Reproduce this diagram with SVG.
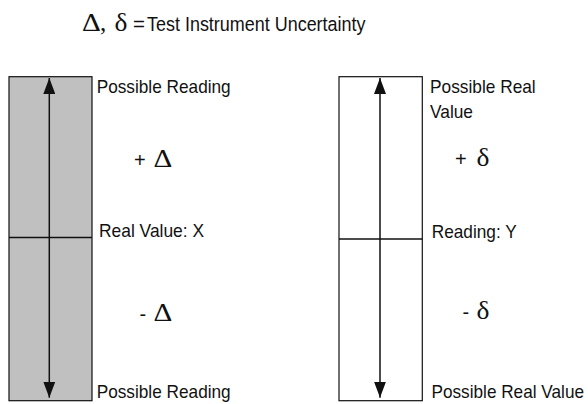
<svg xmlns="http://www.w3.org/2000/svg" width="588" height="404" viewBox="0 0 588 404">
<style>
.lbl{font-family:"Liberation Sans",Arial,sans-serif;font-size:19px;fill:#111}
.ttl{font-family:"Liberation Sans",Arial,sans-serif;font-size:20.5px;fill:#111}
.pm{font-family:"Liberation Sans",Arial,sans-serif;font-size:20px;fill:#111}
.grk{font-family:"Liberation Serif","Times New Roman",serif;font-size:25px;fill:#111}
.box{stroke:#111;stroke-width:1.2}
.ln{stroke:#111;stroke-width:1.5;fill:none}
</style>
<defs>
<marker id="ah" viewBox="0 0 16 12" refX="16" refY="6" markerWidth="16" markerHeight="12" markerUnits="userSpaceOnUse" orient="auto">
<path d="M0,0 L16,6 L0,12 Z" fill="#111"/>
</marker>
</defs>
<rect width="588" height="404" fill="#fff"/>
<g id="title">
<text class="grk" transform="translate(82,30.7) scale(1.17,1)">Δ</text>
<text class="grk" x="100" y="30.7">,</text>
<text class="grk" font-size="29" transform="translate(114.5,30.7) scale(1.1,1)">δ</text>
<text class="ttl" x="133" y="30.7" font-size="16">=</text>
<text class="ttl" x="147" y="30.7" textLength="218.5" lengthAdjust="spacingAndGlyphs">Test Instrument Uncertainty</text>
</g>
<g id="left">
<rect class="box" x="9" y="76.7" width="83" height="324" fill="#c0c0c0"/>
<line class="ln" x1="9" y1="237.5" x2="92" y2="237.5"/>
<text class="lbl" x="96.7" y="93.3" textLength="134" lengthAdjust="spacingAndGlyphs">Possible Reading</text>
<text class="pm" x="134" y="166.5">+</text><text class="grk" transform="translate(153.5,166.7) scale(1.17,1)">Δ</text>
<text class="lbl" x="99" y="236.5" textLength="105" lengthAdjust="spacingAndGlyphs">Real Value: X</text>
<text class="pm" x="139.5" y="320.7">-</text><text class="grk" transform="translate(153.5,320.7) scale(1.17,1)">Δ</text>
<text class="lbl" x="96.7" y="398" textLength="134" lengthAdjust="spacingAndGlyphs">Possible Reading</text>
</g>
<g id="right">
<rect class="box" x="339" y="76.7" width="83.3" height="324" fill="#fff"/>
<line class="ln" x1="339" y1="239" x2="422.3" y2="239"/>
<text class="lbl" x="430" y="93.3" textLength="105.7" lengthAdjust="spacingAndGlyphs">Possible Real</text>
<text class="lbl" x="430" y="118" textLength="43" lengthAdjust="spacingAndGlyphs">Value</text>
<text class="pm" x="455" y="166">+</text><text class="grk" font-size="26" transform="translate(476.5,166) scale(1.1,1)">δ</text>
<text class="lbl" x="431.7" y="238" textLength="85" lengthAdjust="spacingAndGlyphs">Reading: Y</text>
<text class="pm" x="462.5" y="319">-</text><text class="grk" font-size="26" transform="translate(476.5,319) scale(1.1,1)">δ</text>
<text class="lbl" x="431.5" y="398" font-size="18.5" textLength="152.5" lengthAdjust="spacingAndGlyphs">Possible Real Value</text>
</g>
<g id="connectors">
<line class="ln" x1="49.3" y1="237.5" x2="49.3" y2="78" marker-end="url(#ah)"/>
<line class="ln" x1="49.3" y1="237.5" x2="49.3" y2="397.7" marker-end="url(#ah)"/>
<line class="ln" x1="380" y1="239" x2="380" y2="78" marker-end="url(#ah)"/>
<line class="ln" x1="380" y1="239" x2="380" y2="397.7" marker-end="url(#ah)"/>
</g>
</svg>
